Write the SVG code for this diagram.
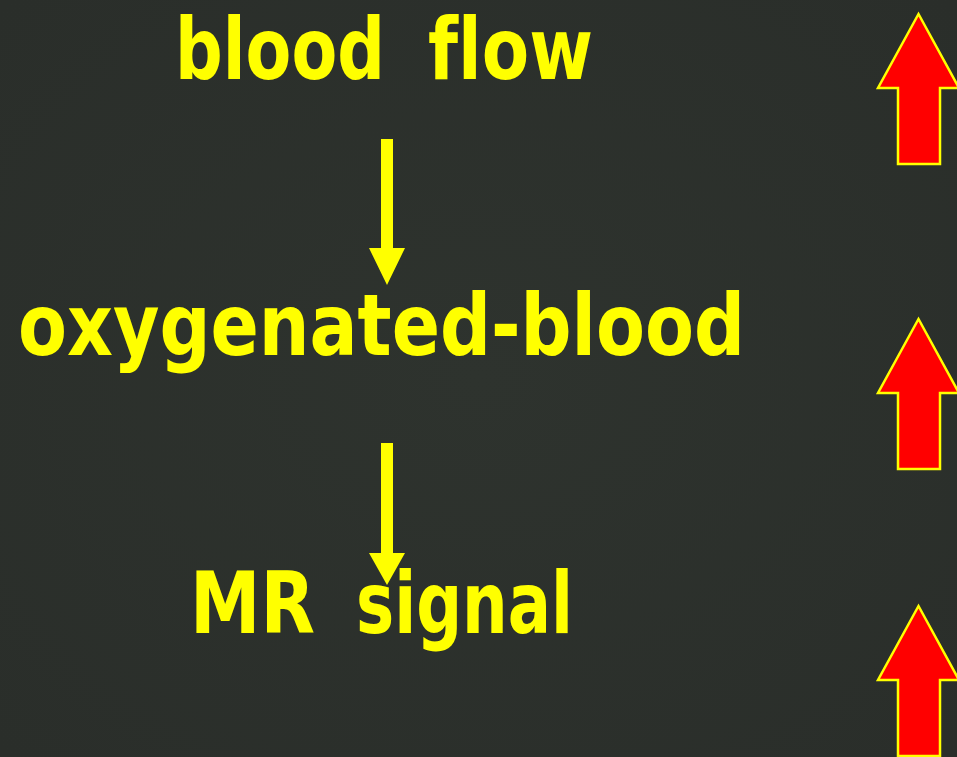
<svg xmlns="http://www.w3.org/2000/svg" width="957" height="757" viewBox="0 0 957 757">
<defs>
<style>
.lbl{font-family:"Comic Sans MS","DejaVu Sans",sans-serif;font-weight:bold;font-size:86px;fill:#ffff00;font-variant-ligatures:none;font-feature-settings:"liga" 0}
.up{fill:#ff0000;stroke:#ffff00;stroke-width:2.5;stroke-linejoin:miter}
.down{fill:#ffff00}
</style>
<radialGradient id="bg" cx="0.5" cy="0.5" r="0.7">
<stop offset="0" stop-color="#2e332e"/>
<stop offset="1" stop-color="#2a2e2a"/>
</radialGradient>
</defs>
<rect width="957" height="757" fill="url(#bg)"/>
<g id="node-blood-flow">
<text class="lbl" x="175" y="79" textLength="210" lengthAdjust="spacingAndGlyphs">blood</text>
<text class="lbl" x="428" y="79" textLength="165" lengthAdjust="spacingAndGlyphs">flow</text>
</g>
<g id="node-oxygenated-blood"><text class="lbl" x="18" y="355" textLength="727" lengthAdjust="spacingAndGlyphs">oxygenated-blood</text></g>
<g id="node-mr-signal">
<text class="lbl" x="190" y="633" textLength="125" lengthAdjust="spacingAndGlyphs">MR</text>
<text class="lbl" x="356" y="633" textLength="217" lengthAdjust="spacingAndGlyphs">signal</text>
</g>
<g id="connectors">
<path class="down" d="M381 139 H393 V248 H405 L387 285 L369 248 H381 Z"/>
<path class="down" d="M381 443 H393 V553 H405 L387 585 L369 553 H381 Z"/>
</g>
<g id="up-arrows">
<path class="up" d="M918.5 14 L959 88 H940 V164 H898 V88 H878 Z"/>
<path class="up" d="M918.5 319 L959 393 H940 V469 H898 V393 H878 Z"/>
<path class="up" d="M918.5 606 L959 680 H940 V756 H898 V680 H878 Z"/>
</g>
</svg>
